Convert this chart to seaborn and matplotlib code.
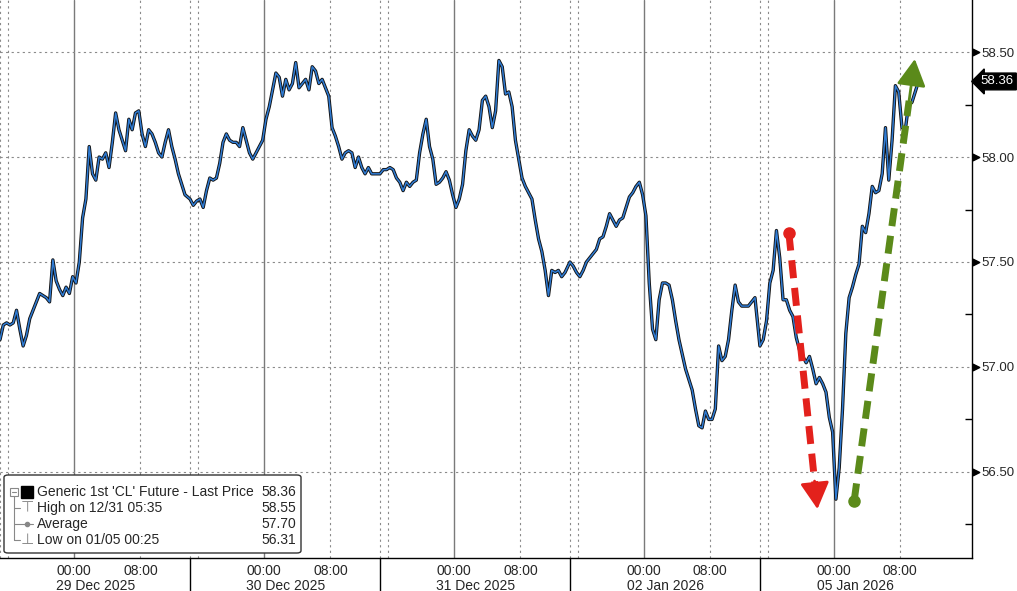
import pandas as pd
import seaborn as sns
import matplotlib.pyplot as plt
import matplotlib.transforms as mtransforms
from matplotlib.patches import FancyBboxPatch, Rectangle
from matplotlib.lines import Line2D

# Precos de fechamento (barras de ~24 min) de cada sessao
dec29 = [57.13, 57.20, 57.21, 57.20, 57.21, 57.27, 57.18, 57.10, 57.15, 57.23,
         57.27, 57.31, 57.35, 57.34, 57.33, 57.31, 57.51, 57.41, 57.37, 57.34,
         57.38, 57.35, 57.43, 57.40, 57.50, 57.71, 57.80, 58.05, 57.92, 57.89,
         58.00, 57.99, 58.02, 57.95, 58.07, 58.21, 58.13, 58.08, 58.03, 58.18,
         58.13, 58.21, 58.22, 58.11, 58.05, 58.13, 58.11, 58.07, 58.02, 58.00,
         58.07, 58.13, 58.05, 57.99, 57.92, 57.87, 57.82]
dec30 = [57.80, 57.77, 57.79, 57.80, 57.76, 57.84, 57.90, 57.89, 57.90, 57.97,
         58.07, 58.11, 58.08, 58.07, 58.07, 58.05, 58.14, 58.08, 58.02, 57.99,
         58.02, 58.05, 58.08, 58.18, 58.24, 58.32, 58.40, 58.38, 58.29, 58.37,
         58.32, 58.35, 58.45, 58.33, 58.35, 58.37, 58.32, 58.43, 58.41, 58.35,
         58.37, 58.33, 58.29, 58.14, 58.10, 58.05, 57.99, 58.02, 58.03, 58.02,
         57.95, 58.00, 57.95, 57.92, 57.95, 57.92, 57.92]
dec31 = [57.92, 57.94, 57.94, 57.95, 57.94, 57.90, 57.88, 57.84, 57.88, 57.86,
         57.88, 57.89, 58.02, 58.11, 58.18, 58.05, 57.99, 57.87, 57.88, 57.90,
         57.93, 57.89, 57.82, 57.76, 57.80, 57.87, 58.03, 58.13, 58.10, 58.08,
         58.13, 58.27, 58.29, 58.24, 58.14, 58.22, 58.46, 58.43, 58.30, 58.31,
         58.24, 58.08, 57.99, 57.90, 57.86, 57.83, 57.80, 57.70, 57.61, 57.55,
         57.46, 57.34, 57.46, 57.45, 57.46, 57.43, 57.45]
jan02 = [57.50, 57.48, 57.45, 57.43, 57.46, 57.50, 57.52, 57.54, 57.56, 57.61,
         57.62, 57.67, 57.73, 57.70, 57.67, 57.70, 57.71, 57.76, 57.81, 57.83,
         57.86, 57.88, 57.82, 57.72, 57.40, 57.18, 57.13, 57.32, 57.40, 57.40,
         57.39, 57.32, 57.22, 57.13, 57.06, 56.99, 56.94, 56.89, 56.80, 56.72,
         56.71, 56.79, 56.75, 56.75, 56.80, 57.10, 57.03, 57.05, 57.13, 57.27,
         57.39, 57.31, 57.29, 57.29, 57.29, 57.31, 57.33]
jan05 = [57.10, 57.13, 57.22, 57.40, 57.46, 57.65, 57.52, 57.32, 57.32, 57.27,
         57.24, 57.14, 57.08, 57.05, 57.02, 57.05, 56.99, 56.92, 56.95, 56.92,
         56.88, 56.76, 56.69, 56.37, 56.52, 56.80, 57.16, 57.33, 57.38, 57.44,
         57.49, 57.67, 57.64, 57.73, 57.86, 57.83, 57.84, 57.92, 58.14, 57.89,
         58.08, 58.34, 58.31, 58.14, 58.13, 58.25, 58.26, 58.31, 58.36]

sessoes = [dec29, dec30, dec31, jan02, jan05]
datas = ['29 Dec 2025', '30 Dec 2025', '31 Dec 2025', '02 Jan 2026', '05 Jan 2026']
niveis = [56.50, 57.00, 57.50, 58.00, 58.50]
ultimo = 58.36

legenda_txt = ["Generic 1st 'CL' Future - Last Price", 'High on 12/31 05:35',
               'Average', 'Low on 01/05 00:25']
legenda_val = ['58.36', '58.55', '57.70', '56.31']

# setas desenhadas na imagem (hora de pregao, preco)
seta_verm = [(95.5, 57.64), (99.0, 56.31)]
seta_verde = [(103.4, 56.36), (110.8, 58.48)]

H_SESSAO = 23      # horas de pregao por sessao
PASSO = 0.4        # horas por barra

linhas = []
for k, s in enumerate(sessoes):
    for j, p in enumerate(s):
        linhas.append({'t': k * H_SESSAO + j * PASSO, 'preco': p})
dados = pd.DataFrame(linhas)

sns.set_style('white')
plt.rcParams['font.family'] = ['Liberation Sans', 'DejaVu Sans']

W, H = 1017, 591
fig = plt.figure(figsize=(W / 100, H / 100), dpi=100)
ax = fig.add_axes([0, 33 / H, 972 / W, 558 / H])

# grade
dot = (0, (2, 3))
for k in range(5):
    base = k * H_SESSAO
    ax.axvline(base + 9, color='#7a7a7a', lw=1.0, zorder=1)
    ax.axvline(base + 17, color='#8a8a8a', lw=0.8, ls=dot, zorder=1)
    ax.axvline(base, color='#8a8a8a', lw=0.8, ls=dot, zorder=1)
    ax.axvline(base + 1, color='#8a8a8a', lw=0.8, ls=dot, zorder=1)
    if k > 0:
        ax.axvline(base, ymin=-0.06, ymax=0, color='black', lw=1, clip_on=False)
for v in niveis:
    ax.axhline(v, color='#8a8a8a', lw=0.8, ls=dot, zorder=1)

# serie de preco
sns.lineplot(data=dados, x='t', y='preco', ax=ax, color='#111111', lw=2.4,
             estimator=None, sort=False, zorder=3)
sns.lineplot(data=dados, x='t', y='preco', ax=ax, color='#2f7bd3', lw=1.1,
             estimator=None, sort=False, zorder=4)

# setas tracejadas
for (p0, p1), cor in [(seta_verm, '#e3211c'), (seta_verde, '#5b8a1a')]:
    dx, dy = p1[0] - p0[0], p1[1] - p0[1]
    meio = (p0[0] + dx * 0.9, p0[1] + dy * 0.9)
    ax.plot([p0[0], meio[0]], [p0[1], meio[1]], color=cor, lw=5,
            dashes=(2.6, 1.4), solid_capstyle='butt', zorder=6)
    ax.plot([p0[0]], [p0[1]], 'o', color=cor, ms=8, zorder=6)
    ax.annotate('', xy=p1, xytext=(p0[0] + dx * 0.88, p0[1] + dy * 0.88),
                arrowprops=dict(arrowstyle='-|>,head_width=0.6,head_length=1.1',
                                mutation_scale=15, color=cor, lw=2), zorder=6)

# eixo x
maj, rot, mnr = [], [], []
for k in range(5):
    base = k * H_SESSAO
    maj += [base + 9, base + 17]
    rot += ['00:00', '08:00']
    mnr += [base + 1, base + 5, base + 13, base + 21]
ax.set_xticks(maj)
ax.set_xticklabels(rot)
ax.set_xticks(mnr, minor=True)
ax.tick_params(axis='x', which='both', direction='out', length=4, width=1,
               color='black', labelsize=10, pad=0)
tx = mtransforms.blended_transform_factory(ax.transData, ax.transAxes)
for k, d in enumerate(datas):
    ax.text(k * H_SESSAO + 11.6, -0.05, d, transform=tx, ha='center',
            va='center', fontsize=10)

# eixo y a direita
ax.yaxis.tick_right()
ax.set_yticks(niveis)
ax.set_yticklabels([f'{v:.2f}' for v in niveis])
ax.set_yticks([v - 0.25 for v in niveis], minor=True)
ax.tick_params(axis='y', which='major', length=0, pad=7, labelsize=9.5)
ax.tick_params(axis='y', which='minor', direction='in', length=5, width=1,
               color='black')

ax.set_xlim(0, 972 / 8.26)
ax.set_ylim(56.09, 58.748)

ty = mtransforms.blended_transform_factory(ax.transAxes, ax.transData)
ax.scatter([1.0045] * len(niveis), niveis, marker='>', s=22, color='black',
           transform=ty, clip_on=False, zorder=7)
ax.text(1.009, ultimo, f'{ultimo:.2f}', transform=ty, color='white',
        fontsize=9.5, ha='left', va='center',
        bbox=dict(boxstyle='larrow,pad=0.18', fc='black', ec='black'))

for lado in ['top', 'left']:
    ax.spines[lado].set_visible(False)
for lado in ['right', 'bottom']:
    ax.spines[lado].set_color('black')
    ax.spines[lado].set_linewidth(1)
ax.set_xlabel('')
ax.set_ylabel('')
ax.set_ylim(56.09, 58.748)

# caixa de legenda no estilo Bloomberg
def fx(x):
    return x / W

def fy(y):
    return 1 - y / H

caixa = FancyBboxPatch((fx(4), fy(553)), 297 / W, 78 / H,
                       boxstyle='round,pad=0,rounding_size=0.004',
                       transform=fig.transFigure, fc='white', ec='#333333',
                       lw=1, zorder=10)
fig.add_artist(caixa)
ys = [492, 508, 524, 540]
for txt, val, y in zip(legenda_txt, legenda_val, ys):
    fig.text(fx(37), fy(y), txt, fontsize=10, va='center', ha='left', zorder=11)
    fig.text(fx(296), fy(y), val, fontsize=10, va='center', ha='right', zorder=11)
cinza = '#888888'
fig.add_artist(Line2D([fx(14)] * 2, [fy(496), fy(540)], color=cinza, lw=0.8,
                      transform=fig.transFigure, zorder=11))
for y in ys[1:]:
    fig.add_artist(Line2D([fx(14), fx(20)], [fy(y), fy(y)], color=cinza,
                          lw=0.8, transform=fig.transFigure, zorder=11))
fig.add_artist(Rectangle((fx(10), fy(496)), 8 / W, 8 / H, fc='white', ec=cinza,
                         lw=0.8, transform=fig.transFigure, zorder=12))
fig.add_artist(Line2D([fx(12), fx(16)], [fy(492), fy(492)], color=cinza, lw=0.8,
                      transform=fig.transFigure, zorder=13))
fig.add_artist(Rectangle((fx(21), fy(498)), 12 / W, 12 / H, fc='black',
                         ec='black', transform=fig.transFigure, zorder=12))
fig.text(fx(27), fy(508), '\u22a4', fontsize=11, color=cinza, ha='center',
         va='center', family='DejaVu Sans', zorder=11)
fig.add_artist(Line2D([fx(20), fx(33)], [fy(524), fy(524)], color=cinza, lw=0.8,
                      transform=fig.transFigure, zorder=11))
fig.add_artist(Line2D([fx(26.5)], [fy(524)], color=cinza, marker='o', ms=3,
                      transform=fig.transFigure, zorder=12))
fig.text(fx(27), fy(540), '\u22a5', fontsize=11, color=cinza, ha='center',
         va='center', family='DejaVu Sans', zorder=11)

fig.savefig('out.png', dpi=100)
